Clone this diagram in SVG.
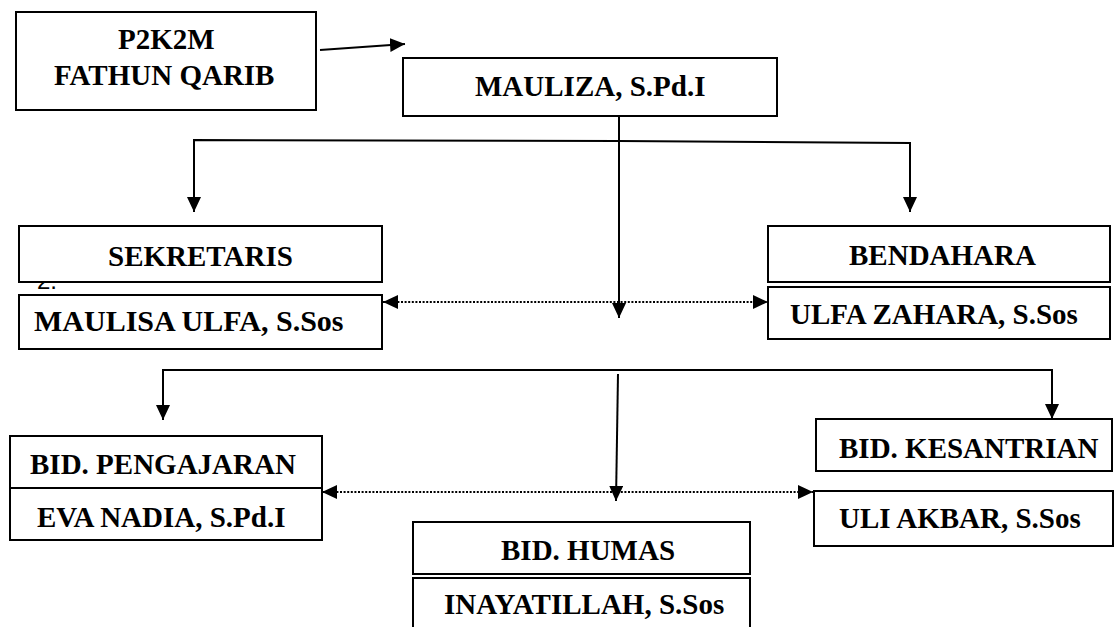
<svg xmlns="http://www.w3.org/2000/svg" width="1115" height="627" viewBox="0 0 1115 627">
  <defs>
    <marker id="ah" markerUnits="userSpaceOnUse" markerWidth="16" markerHeight="15" refX="15" refY="7" orient="auto">
      <path d="M0,0 L15,7 L0,14 z" fill="#000000"/>
    </marker>
    <marker id="ahs" markerUnits="userSpaceOnUse" markerWidth="16" markerHeight="15" refX="15" refY="7" orient="auto-start-reverse">
      <path d="M0,0 L15,7 L0,14 z" fill="#000000"/>
    </marker>
  </defs>

  <g id="connectors" fill="none" stroke="#000000" stroke-width="2">
    <line x1="320" y1="50" x2="405" y2="44" marker-end="url(#ah)"/>
    <line x1="619" y1="116" x2="619" y2="318" marker-end="url(#ah)"/>
    <polyline points="194,212 194,140 619,141 910,143 910,212" marker-end="url(#ah)"/>
    <line x1="194" y1="150" x2="194" y2="212" marker-end="url(#ah)"/>
    <line x1="383" y1="302" x2="768" y2="302" stroke-width="2.2" stroke-dasharray="2 1.6" marker-start="url(#ahs)" marker-end="url(#ahs)"/>
    <polyline points="163,420 163,370 1052,370 1052,419" marker-end="url(#ah)"/>
    <line x1="163" y1="380" x2="163" y2="420" marker-end="url(#ah)"/>
    <line x1="618" y1="374" x2="616" y2="501" marker-end="url(#ah)"/>
    <line x1="322" y1="492" x2="813" y2="492" stroke-width="2.2" stroke-dasharray="2 1.6" marker-start="url(#ahs)" marker-end="url(#ahs)"/>
  </g>

  <g id="n-p2k2m">
    <rect x="16" y="12" width="300" height="98" fill="#ffffff" stroke="#000000" stroke-width="2"/>
    <text x="118" y="49" font-family="Liberation Serif" font-weight="bold" font-size="29">P2K2M</text>
    <text x="54" y="85" font-family="Liberation Serif" font-weight="bold" font-size="29">FATHUN QARIB</text>
  </g>

  <g id="n-mauliza">
    <rect x="403" y="58" width="374" height="58" fill="#ffffff" stroke="#000000" stroke-width="2"/>
    <text x="475" y="96" font-family="Liberation Serif" font-weight="bold" font-size="29">MAULIZA, S.Pd.I</text>
  </g>

  <g id="n-sekretaris">
    <text x="37" y="289" font-family="Liberation Sans" font-size="24">2.</text>
    <rect x="19" y="226" width="363" height="56" fill="#ffffff" stroke="#000000" stroke-width="2"/>
    <text x="108" y="266" font-family="Liberation Serif" font-weight="bold" font-size="29">SEKRETARIS</text>
    <rect x="19" y="295" width="363" height="54" fill="#ffffff" stroke="#000000" stroke-width="2"/>
    <text x="34" y="331" font-family="Liberation Serif" font-weight="bold" font-size="30">MAULISA ULFA, S.Sos</text>
  </g>

  <g id="n-bendahara">
    <rect x="768" y="226" width="342" height="56" fill="#ffffff" stroke="#000000" stroke-width="2"/>
    <text x="849" y="265" font-family="Liberation Serif" font-weight="bold" font-size="29">BENDAHARA</text>
    <rect x="768" y="287" width="342" height="52" fill="#ffffff" stroke="#000000" stroke-width="2"/>
    <text x="790" y="324" font-family="Liberation Serif" font-weight="bold" font-size="29">ULFA ZAHARA, S.Sos</text>
  </g>

  <g id="n-pengajaran">
    <rect x="10" y="436" width="312" height="52" fill="#ffffff" stroke="#000000" stroke-width="2"/>
    <text x="30" y="474" font-family="Liberation Serif" font-weight="bold" font-size="29">BID. PENGAJARAN</text>
    <rect x="10" y="488" width="312" height="52" fill="#ffffff" stroke="#000000" stroke-width="2"/>
    <text x="37" y="527" font-family="Liberation Serif" font-weight="bold" font-size="29">EVA NADIA, S.Pd.I</text>
  </g>

  <g id="n-kesantrian">
    <rect x="816" y="419" width="296" height="52" fill="#ffffff" stroke="#000000" stroke-width="2"/>
    <text x="839" y="458" font-family="Liberation Serif" font-weight="bold" font-size="29">BID. KESANTRIAN</text>
    <rect x="814" y="491" width="299" height="55" fill="#ffffff" stroke="#000000" stroke-width="2"/>
    <text x="839" y="528" font-family="Liberation Serif" font-weight="bold" font-size="29">ULI AKBAR, S.Sos</text>
  </g>

  <g id="n-humas">
    <rect x="413" y="522" width="337" height="52" fill="#ffffff" stroke="#000000" stroke-width="2"/>
    <text x="501" y="560" font-family="Liberation Serif" font-weight="bold" font-size="29">BID. HUMAS</text>
    <rect x="413" y="578" width="337" height="70" fill="#ffffff" stroke="#000000" stroke-width="2"/>
    <text x="444" y="614" font-family="Liberation Serif" font-weight="bold" font-size="29">INAYATILLAH, S.Sos</text>
  </g>
</svg>
